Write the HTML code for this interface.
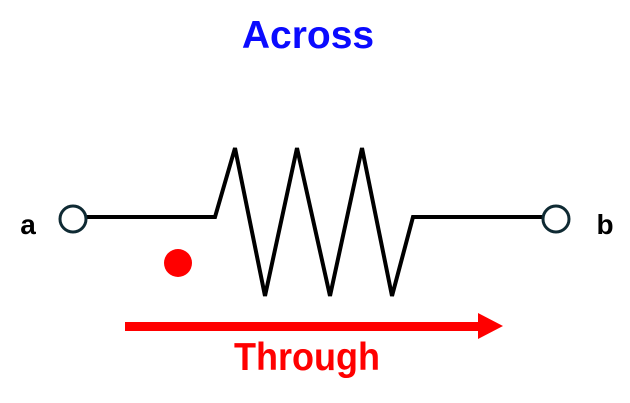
<!DOCTYPE html>
<html><head><style>
html,body{margin:0;padding:0;background:#fff;}
svg{display:block;}
text{font-family:"Liberation Sans",sans-serif;font-weight:bold;}
</style></head><body>
<svg width="630" height="403" viewBox="0 0 630 403">
<text x="308" y="48" text-anchor="middle" font-size="39" fill="#0a0aff">Across</text>
<polyline points="86,217 215,217 235,148 265,296 297,148 330,296 362,148 392,296 413,217 543,217" fill="none" stroke="#000" stroke-width="4" stroke-linejoin="miter"/>
<circle cx="73" cy="219" r="13" fill="#fff" stroke="#0f2a33" stroke-width="3"/>
<circle cx="556" cy="219" r="13" fill="#fff" stroke="#0f2a33" stroke-width="3"/>
<text x="28" y="234" text-anchor="middle" font-size="28" fill="#000">a</text>
<text x="605" y="234" text-anchor="middle" font-size="28" fill="#000">b</text>
<ellipse cx="178" cy="263" rx="14" ry="14" fill="#f00"/>
<rect x="125" y="322" width="356" height="9" fill="#f00"/>
<polygon points="478,313 503,326 478,339" fill="#f00"/>
<text x="307" y="370" text-anchor="middle" font-size="39" fill="#f00" textLength="146" lengthAdjust="spacingAndGlyphs">Through</text>
</svg>
</body></html>
